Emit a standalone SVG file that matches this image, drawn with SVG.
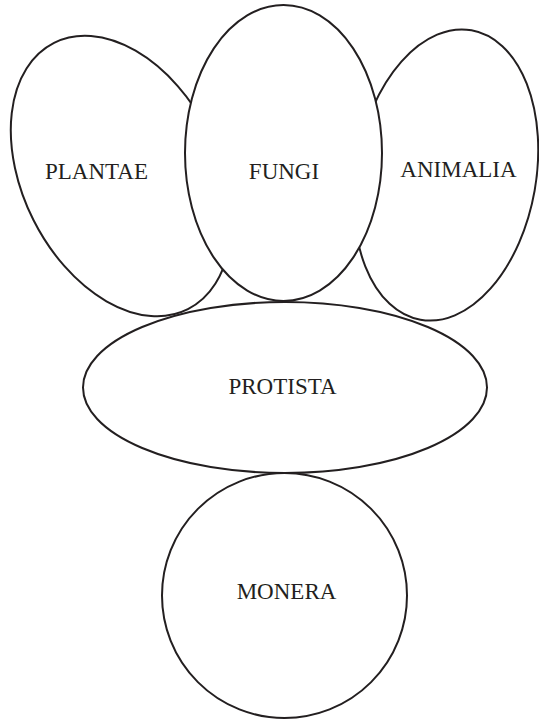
<svg xmlns="http://www.w3.org/2000/svg" width="539" height="719" viewBox="0 0 539 719">
<style>
.n{fill:#fff;stroke:#231f20;stroke-width:2}
.t{font-family:"Liberation Serif","Times New Roman",serif;font-size:23px;fill:#231f20;text-anchor:middle}
</style>
<rect width="539" height="719" fill="#fff"/>
<g id="plantae"><ellipse class="n" cx="121" cy="176" rx="98" ry="149" transform="rotate(-26.7 121 176)"/><text class="t" x="96.5" y="179">PLANTAE</text></g>
<g id="animalia"><ellipse class="n" cx="446" cy="175" rx="90" ry="147" transform="rotate(10 446 175)"/><text class="t" x="458.5" y="177">ANIMALIA</text></g>
<g id="fungi"><ellipse class="n" cx="283.5" cy="153" rx="98.5" ry="148"/><text class="t" x="284" y="179">FUNGI</text></g>
<g id="protista"><ellipse class="n" cx="285" cy="387.5" rx="202" ry="85.5"/><text class="t" x="282.5" y="394">PROTISTA</text></g>
<g id="monera"><circle class="n" cx="284.5" cy="595.5" r="122.5"/><text class="t" x="286.5" y="599">MONERA</text></g>
<g id="connectors"/>
</svg>
